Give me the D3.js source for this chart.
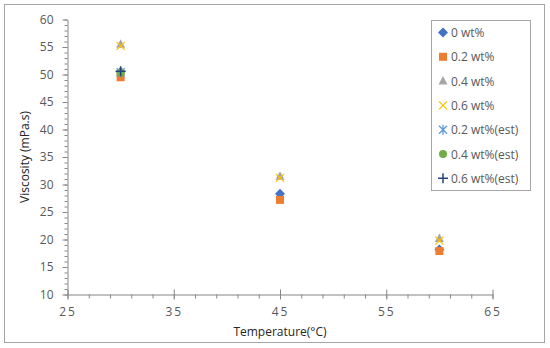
<!DOCTYPE html>
<html><head><meta charset="utf-8">
<script src="https://cdn.jsdelivr.net/npm/d3@7"></script>
<style>body{margin:0;background:#fff;}svg{display:block;}</style>
</head><body>
<svg id="c" width="550" height="348"></svg>
<script>
const temperatures = [30, 45, 60];
const seriesNames = ["0 wt%", "0.2 wt%", "0.4 wt%", "0.6 wt%", "0.2 wt%(est)", "0.4 wt%(est)", "0.6 wt%(est)"];
const v0 = [50.5, 28.3, 18.2];
const v02 = [49.5, 27.2, 17.9];
const v04 = [55.5, 31.5, 20.2];
const v06 = [55.2, 31.2, 19.8];
const v02est = [50.4, null, null];
const v04est = [50.3, null, null];
const v06est = [50.6, null, null];
const xTicks = [25, 35, 45, 55, 65];
const yTicks = [10, 15, 20, 25, 30, 35, 40, 45, 50, 55, 60];

const colors = ["#4472C4", "#ED7D31", "#A5A5A5", "#FFC000", "#5B9BD5", "#70AD47", "#264478"];
const shapes = ["diamond", "square", "triangle", "x", "asterisk", "circle", "plus"];
const values = [v0, v02, v04, v06, v02est, v04est, v06est];

const svg = d3.select("#c");
const font = "'Open Sans', 'Liberation Sans', sans-serif";
svg.append("rect").attr("x", 4.5).attr("y", 4.5).attr("width", 540).attr("height", 338)
  .attr("fill", "#fff").attr("stroke", "#a6a6a6").attr("stroke-width", 1);

const x = d3.scaleLinear().domain([25, 65]).range([67.5, 492.5]);
const y = d3.scaleLinear().domain([10, 60]).range([294.5, 19.5]);

const gx = svg.append("g");
gx.append("g").attr("transform", "translate(0,294.5)")
  .call(d3.axisBottom(x).tickValues(d3.range(25, 66, 2)).tickSize(4).tickFormat(""))
  .call(g => g.select(".domain").remove());
gx.append("g").attr("transform", "translate(0,294.5)")
  .call(d3.axisBottom(x).tickValues(xTicks).tickSize(5).tickSizeOuter(0).tickFormat(d3.format("d")).tickPadding(8))
  .call(g => g.selectAll(".tick line").attr("y1", -5));
const gy = svg.append("g");
gy.append("g").attr("transform", "translate(67.5,0)")
  .call(d3.axisLeft(y).tickValues(d3.range(10, 61, 1)).tickSize(3).tickFormat(""))
  .call(g => g.select(".domain").remove());
gy.append("g").attr("transform", "translate(67.5,0)")
  .call(d3.axisLeft(y).tickValues(yTicks).tickSize(5).tickSizeOuter(0).tickFormat(d3.format("d")).tickPadding(9));

svg.selectAll(".tick line, .domain").attr("stroke", "#868686");
svg.selectAll(".tick text").attr("fill", "#595959").style("font-family", font).style("font-size", "12px");
gx.selectAll(".tick text").attr("letter-spacing", "2px");

svg.append("text").attr("x", 280).attr("y", 336).attr("text-anchor", "middle")
  .style("font-family", font).style("font-size", "12px").attr("fill", "#262626").text("Temperature(°C)");
svg.append("text").attr("transform", "translate(29,157) rotate(-90)").attr("text-anchor", "middle")
  .style("font-family", font).style("font-size", "12px").attr("fill", "#262626").text("Viscosity (mPa.s)");

function marker(g, shape, color, cx, cy) {
  const s = 4;
  if (shape === "diamond") {
    g.append("path").attr("d", `M${cx},${cy-s-1}L${cx+s+1},${cy}L${cx},${cy+s+1}L${cx-s-1},${cy}Z`).attr("fill", color);
  } else if (shape === "square") {
    g.append("rect").attr("x", cx-s).attr("y", cy-s).attr("width", 2*s).attr("height", 2*s).attr("fill", color);
  } else if (shape === "triangle") {
    g.append("path").attr("d", `M${cx},${cy-s-1}L${cx+s+0.5},${cy+s-0.5}L${cx-s-0.5},${cy+s-0.5}Z`).attr("fill", color);
  } else if (shape === "x") {
    g.append("path").attr("d", `M${cx-s},${cy-s}L${cx+s},${cy+s}M${cx+s},${cy-s}L${cx-s},${cy+s}`).attr("stroke", color).attr("stroke-width", 1.3);
  } else if (shape === "asterisk") {
    g.append("path").attr("d", `M${cx-s},${cy-s}L${cx+s},${cy+s}M${cx+s},${cy-s}L${cx-s},${cy+s}M${cx},${cy-s-1}L${cx},${cy+s+1}`).attr("stroke", color).attr("stroke-width", 1.3);
  } else if (shape === "circle") {
    g.append("circle").attr("cx", cx).attr("cy", cy).attr("r", s).attr("fill", color);
  } else if (shape === "plus") {
    g.append("path").attr("d", `M${cx-s-1},${cy}L${cx+s+1},${cy}M${cx},${cy-s-1}L${cx},${cy+s+1}`).attr("stroke", color).attr("stroke-width", 1.5);
  }
}

const pts = svg.append("g");
values.forEach((vals, i) => {
  vals.forEach((v, j) => {
    if (v == null) return;
    marker(pts, shapes[i], colors[i], x(temperatures[j]), y(v));
  });
});

const lg = svg.append("g");
lg.append("rect").attr("x", 431.5).attr("y", 20.5).attr("width", 99).attr("height", 170)
  .attr("fill", "#fff").attr("stroke", "#a6a6a6");
seriesNames.forEach((n, i) => {
  const yy = 32.5 + i * 24.3;
  marker(lg, shapes[i], colors[i], 443, yy);
  lg.append("text").attr("x", 451).attr("y", yy + 4.5).style("font-family", font).style("font-size", "12px")
    .attr("fill", "#595959").text(n);
});
</script>
</body></html>
